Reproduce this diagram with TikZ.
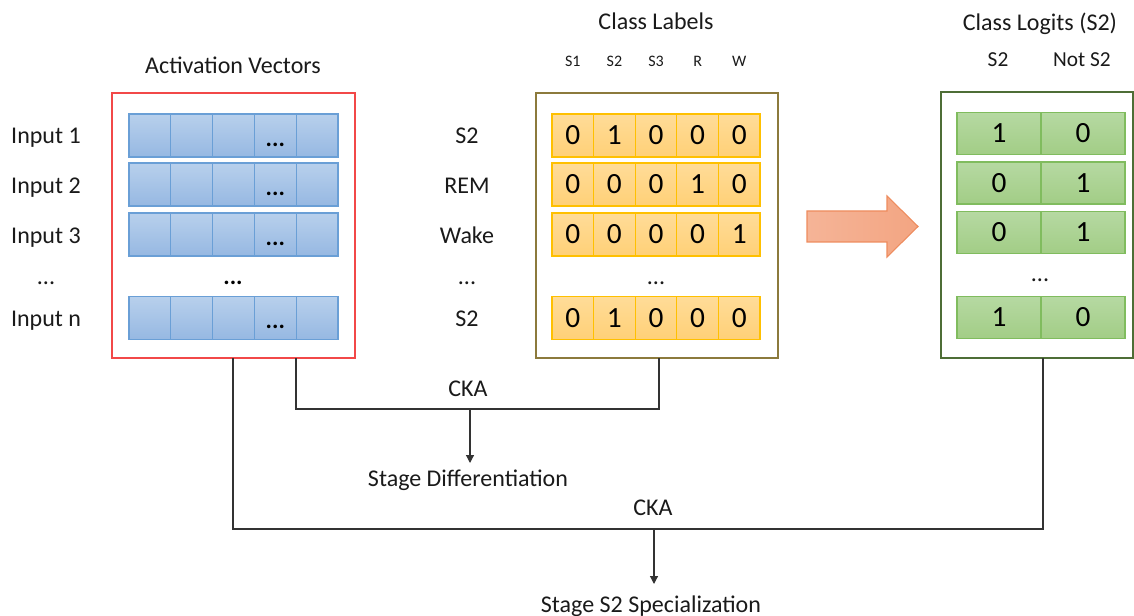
\documentclass[tikz,border=0pt]{standalone}
\usepackage{fontspec}
\setmainfont{Carlito}
\usetikzlibrary{arrows.meta,fit}
\definecolor{bluedraw}{HTML}{6A9FD6}
\definecolor{bluetop}{HTML}{B8D0EC}
\definecolor{bluebot}{HTML}{96B8E2}
\definecolor{orgdraw}{HTML}{FFC000}
\definecolor{orgtop}{HTML}{FFDC98}
\definecolor{orgbot}{HTML}{FFD077}
\definecolor{grndraw}{HTML}{80BC5E}
\definecolor{grntop}{HTML}{B6D9A2}
\definecolor{grnbot}{HTML}{A2CD86}
\definecolor{redbox}{HTML}{F24848}
\definecolor{olivebox}{HTML}{8C7A3C}
\definecolor{greenbox}{HTML}{4E6E36}
\definecolor{arrleft}{HTML}{F5B497}
\definecolor{arrright}{HTML}{F3A582}
\definecolor{arrdraw}{HTML}{EE8C5E}
\definecolor{txt}{HTML}{1A1A1A}
\begin{document}
\begin{tikzpicture}[x=0.75pt,y=-0.75pt,
  lbl/.style={font=\fontsize{18}{20}\selectfont, inner sep=0, anchor=base, text=txt},
  mlbl/.style={font=\fontsize{16}{18}\selectfont, inner sep=0, anchor=base, text=txt},
  hdr/.style={font=\fontsize{12}{14}\selectfont, inner sep=0, anchor=base, text=txt},
  dig/.style={font=\fontsize{22}{24}\selectfont, inner sep=0, anchor=base, text=black},
  bdots/.style={font=\fontsize{18}{20}\selectfont\bfseries, inner sep=0, anchor=base, text=black},
  cellbase/.style={inner sep=0, outer sep=0, line width=0.9pt},
  bcell/.style={cellbase, draw=bluedraw, top color=bluetop, bottom color=bluebot, minimum width=31.35pt, minimum height=32.25pt},
  ocell/.style={cellbase, draw=orgdraw, top color=orgtop, bottom color=orgbot, minimum width=31.2pt, minimum height=32.25pt},
  gcell/.style={cellbase, draw=grndraw, top color=grntop, bottom color=grnbot, minimum width=63pt, minimum height=31.5pt},
  frame/.style={inner sep=0, outer sep=0, line width=1pt},
  conn/.style={line width=0.9pt, draw=black!80},
  tip/.style={-{Triangle[width=6pt,length=6pt]}}]
\useasboundingbox (0,0) rectangle (1134,616);

% frames
\node[frame, draw=redbox, fit={(112,93) (355,358)}] (act) {};
\node[frame, draw=olivebox, fit={(536,93) (778,358)}] (cls) {};
\node[frame, draw=greenbox, fit={(941,92) (1133,358)}] (lgt) {};

% titles
\node[lbl] (tact) at (233,74) {Activation Vectors};
\node[lbl] (tcls) at (656,30) {Class Labels};
\node[lbl] (tlgt) at (1040,31) {Class Logits (S2)};

% column headers
\foreach \h/\x in {S1/572.8,S2/614.4,S3/656,R/697.6,W/739.2}
  \node[hdr] (h\h) at (\x,67) {\h};
\node[mlbl] (gh1) at (998,67) {S2};
\node[mlbl] (gh2) at (1082,67) {Not S2};

% row labels
\node[lbl] (in1) at (46,144) {Input 1};
\node[lbl] (in2) at (46,194) {Input 2};
\node[lbl] (in3) at (46,244) {Input 3};
\node[lbl] (ind) at (46,285) {...};
\node[lbl] (inn) at (46,327) {Input n};
\node[lbl] (lb1) at (467,144) {S2};
\node[lbl] (lb2) at (467,194) {REM};
\node[lbl] (lb3) at (467,244) {Wake};
\node[lbl] (lbd) at (467,285) {...};
\node[lbl] (lbn) at (467,327) {S2};

% blue cells
\foreach \r/\y in {1/135.5,2/184.5,3/234.5,4/318}{
  \foreach \c/\x in {1/149.9,2/191.7,3/233.5,4/275.3,5/317.1}
    \node[bcell] (b-\r-\c) at (\x,\y) {};
  \node[bdots] (bd-\r) at (275.3,\y+11) {...};
}
\node[bdots] (bdm) at (233,285) {...};

% orange cells
\foreach \r/\y/\vals in {1/135.5/{0,1,0,0,0},2/184.5/{0,0,0,1,0},3/234.5/{0,0,0,0,1},4/318/{0,1,0,0,0}}{
  \foreach \v [count=\c] in \vals{
    \node[ocell] (o-\r-\c) at (552+41.6*\c-20.8,\y) {};
    \node[dig] at (552+41.6*\c-20.8,\y+9.5) {\v};
  }
}
\node[lbl] (od) at (656,285) {...};

% green cells
\foreach \r/\y/\a/\b in {1/133.5/1/0,2/183/0/1,3/232.5/0/1,4/317.5/1/0}{
  \node[gcell] (g-\r-1) at (999,\y) {};
  \node[gcell] (g-\r-2) at (1083,\y) {};
  \node[dig] at (999,\y+9.5) {\a};
  \node[dig] at (1083,\y+9.5) {\b};
}
\node[lbl] (gd) at (1040,282) {...};

% big arrow
\path[draw=arrdraw, line width=0.8pt, left color=arrleft, right color=arrright]
  (807,211) -- (887,211) -- (887,196) -- (918,226.5) -- (887,257) -- (887,242) -- (807,242) -- cycle;

% connectors
\coordinate (c1) at (296,409);
\coordinate (c2) at (659,409);
\coordinate (j1) at (470,409);
\node[lbl] (cka1) at (468,396) {CKA};
\node[lbl] (sd) at (468,486) {Stage Differentiation};
\draw[conn] (c1 |- act.south) -- (c1) -- (c2) -- (c2 |- cls.south);
\draw[conn, tip] (j1) -- (470,463);

\coordinate (d1) at (233,529);
\coordinate (d2) at (1043,529);
\coordinate (j2) at (654,529);
\node[lbl] (cka2) at (653,515) {CKA};
\node[lbl] (ss) at (651,612) {Stage S2 Specialization};
\draw[conn] (d1 |- act.south) -- (d1) -- (d2) -- (d2 |- lgt.south);
\draw[conn, tip] (j2) -- (654,584);
\end{tikzpicture}
\end{document}
